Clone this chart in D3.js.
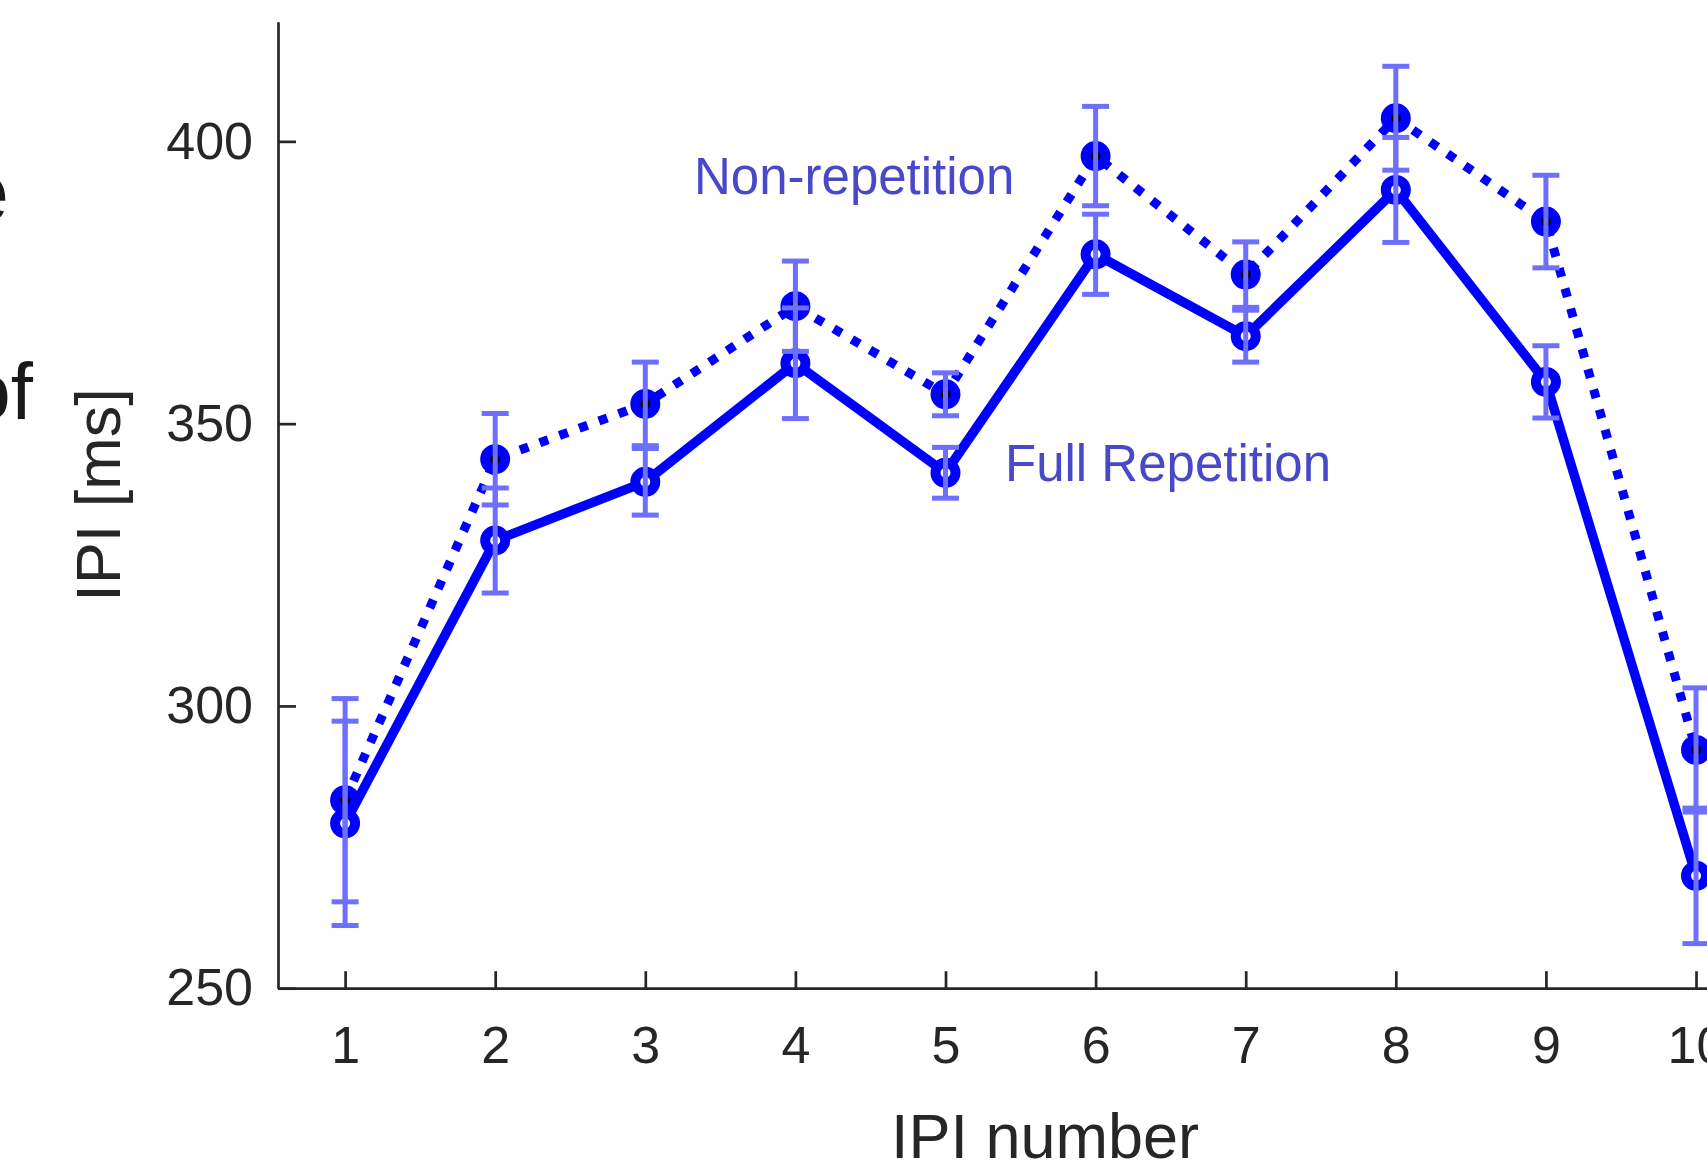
<!DOCTYPE html>
<html>
<head>
<meta charset="utf-8">
<script src="https://cdnjs.cloudflare.com/ajax/libs/d3/7.8.5/d3.min.js"></script>
<style>
  body { margin: 0; background: #fff; }
  text { font-family: "Liberation Sans", Arial, Helvetica, sans-serif; }
</style>
</head>
<body>
<div id="chart"></div>
<script>
// IPI per position, two conditions (mean +/- error)
var ipiNumber = [1, 2, 3, 4, 5, 6, 7, 8, 9, 10];
var nonRepMean = [283.3, 343.7, 353.5, 370.8, 355.2, 397.4, 376.4, 404.1, 385.8, 292.2];
var nonRepErr  = [18.0, 8.1, 7.4, 8.0, 3.8, 8.8, 5.8, 9.2, 8.2, 11.0];
var fullRepMean = [279.2, 329.3, 339.7, 360.7, 341.3, 380.0, 365.5, 391.4, 357.4, 269.9];
var fullRepErr  = [18.1, 9.3, 5.9, 9.8, 4.5, 7.1, 4.6, 9.3, 6.4, 12.0];
var yTicks = [250, 300, 350, 400];

var width = 1707, height = 1169;
var blue = "#0000ff", errColor = "#6e6eff", axisColor = "#262626";

var svg = d3.select("#chart").append("svg")
    .attr("width", width)
    .attr("height", height);

var x = d3.scaleLinear().domain([0.553, 10.77]).range([278, 1811.6]);
var y = d3.scaleLinear().domain([250, 421.2]).range([988.2, 21.7]);

// axes (ticks point inward, like the matlab default)
var xAxis = svg.append("g")
    .attr("transform", "translate(0," + y(250) + ")")
    .call(d3.axisBottom(x).tickValues(ipiNumber).tickSizeInner(-17).tickSizeOuter(0).tickPadding(38));
var yAxis = svg.append("g")
    .attr("transform", "translate(" + x.range()[0] + ",0)")
    .call(d3.axisLeft(y).tickValues(yTicks).tickSizeInner(-18).tickSizeOuter(0).tickPadding(25));

[xAxis, yAxis].forEach(function(a) {
  a.select(".domain").attr("stroke", axisColor).attr("stroke-width", 2.7);
  a.selectAll(".tick line").attr("stroke", axisColor).attr("stroke-width", 2.7);
  a.selectAll(".tick text")
      .attr("fill", axisColor)
      .style("font-size", "52px")
      .style("font-family", '"Liberation Sans", Arial, sans-serif');
});

// axis labels
svg.append("text")
    .attr("x", 1045)
    .attr("y", 1158)
    .attr("text-anchor", "middle")
    .attr("fill", axisColor)
    .style("font-size", "63px")
    .text("IPI number");

svg.append("text")
    .attr("transform", "translate(120,495) rotate(-90)")
    .attr("text-anchor", "middle")
    .attr("fill", axisColor)
    .style("font-size", "63px")
    .text("IPI [ms]");

// bits of the neighbouring panel's text, cut off at the left edge
svg.append("text")
    .attr("x", 9).attr("y", 221)
    .attr("text-anchor", "end")
    .attr("fill", "#1a1a1a")
    .style("font-size", "84px")
    .text("e");
svg.append("text")
    .attr("x", 33).attr("y", 419)
    .attr("text-anchor", "end")
    .attr("fill", "#1a1a1a")
    .style("font-size", "80px")
    .text("of");

var line = d3.line()
    .x(function(d) { return x(d[0]); })
    .y(function(d) { return y(d[1]); });

var nonRep = ipiNumber.map(function(n, i) { return [n, nonRepMean[i], nonRepErr[i]]; });
var fullRep = ipiNumber.map(function(n, i) { return [n, fullRepMean[i], fullRepErr[i]]; });

svg.append("path")
    .datum(nonRep)
    .attr("d", line)
    .attr("fill", "none")
    .attr("stroke", blue)
    .attr("stroke-width", 9)
    .attr("stroke-dasharray", "9 12");

svg.append("path")
    .datum(fullRep)
    .attr("d", line)
    .attr("fill", "none")
    .attr("stroke", blue)
    .attr("stroke-width", 9.5)
    .attr("stroke-linejoin", "round");

// markers: black face for non-repetition, white for full repetition
function markers(data, face) {
  svg.append("g").selectAll("circle")
      .data(data)
    .enter().append("circle")
      .attr("cx", function(d) { return x(d[0]); })
      .attr("cy", function(d) { return y(d[1]); })
      .attr("r", 10)
      .attr("fill", face)
      .attr("stroke", blue)
      .attr("stroke-width", 10);
}
markers(nonRep, "#000");
markers(fullRep, "#fff");

// error bars on top
function errorBars(data) {
  var g = svg.append("g")
      .attr("stroke", errColor)
      .attr("stroke-width", 5);
  var cap = 13.5;
  data.forEach(function(d) {
    var cx = x(d[0]), top = y(d[1] + d[2]), bot = y(d[1] - d[2]);
    g.append("line").attr("x1", cx).attr("x2", cx).attr("y1", top).attr("y2", bot);
    g.append("line").attr("x1", cx - cap).attr("x2", cx + cap).attr("y1", top).attr("y2", top);
    g.append("line").attr("x1", cx - cap).attr("x2", cx + cap).attr("y1", bot).attr("y2", bot);
  });
}
errorBars(nonRep);
errorBars(fullRep);

// condition labels
svg.append("text")
    .attr("x", 694).attr("y", 194)
    .attr("fill", "#4848c8")
    .style("font-size", "51px")
    .text("Non-repetition");
svg.append("text")
    .attr("x", 1005).attr("y", 481)
    .attr("fill", "#4848c8")
    .style("font-size", "51px")
    .text("Full Repetition");
</script>
</body>
</html>
